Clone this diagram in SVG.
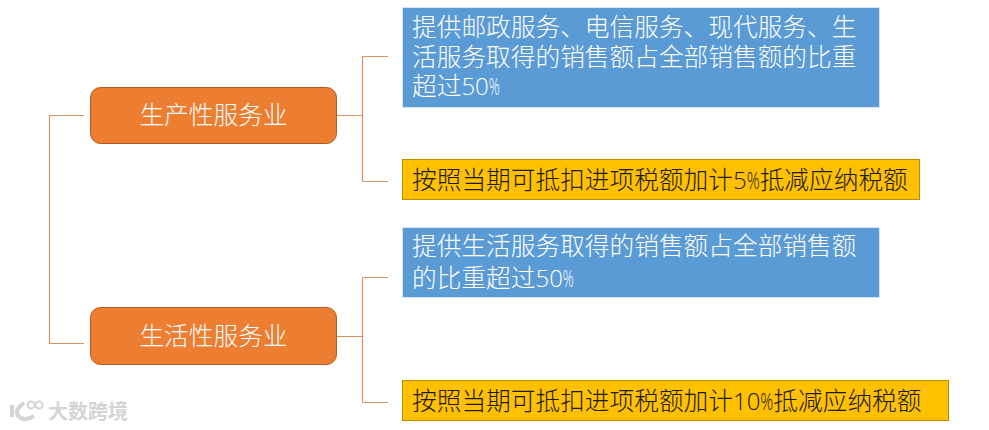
<svg xmlns="http://www.w3.org/2000/svg" width="989" height="430" viewBox="0 0 989 430">
<style>
text{font-family:"Noto Sans CJK SC","Noto Sans CJK JP","Liberation Sans",sans-serif;font-weight:300;font-size:24.7px}
.l{font-family:"Open Sans","Liberation Sans",sans-serif;font-weight:300;font-size:24px}
.c{fill:none;stroke:#d9915f;stroke-width:1.2}
.o{fill:#ed7d31;stroke:#ae5a21;stroke-width:1}
.ot{fill:#fff;text-anchor:middle}
.b{fill:#5b9bd5;stroke:#d6e6f5;stroke-width:1}
.bt{fill:#fff}
.y{fill:#ffc000;stroke:#bc8c00;stroke-width:1}
.yt{fill:#1a1a1a}
.w{fill:#d4d4d4;font-size:20px;font-weight:700}
</style>
<rect width="989" height="430" fill="#fff"/>
<g id="connectors">
<path class="c" d="M84 115.500H49.500V343.500H84"/>
<path class="c" d="M337 115.500H362.500M362.500 56.500V181.500M362.500 56.500H388M362.500 181.500H388"/>
<path class="c" d="M337 336.500H362.500M362.500 277.500V402.500M362.500 277.500H388M362.500 402.500H388"/>
</g>
<g id="n1"><rect class="o" x="90.500" y="87.500" width="246" height="56" rx="10"/><text class="ot" x="213.500" y="124">生产性服务业</text></g>
<g id="n2"><rect class="o" x="90.500" y="307.500" width="246" height="57" rx="10"/><text class="ot" x="213.500" y="345">生活性服务业</text></g>
<g id="n3"><rect class="b" x="402.500" y="7.500" width="477" height="100"/>
<text class="bt" x="412" y="36">提供邮政服务、电信服务、现代服务、生</text>
<text class="bt" x="412" y="66">活服务取得的销售额占全部销售额的比重</text>
<text class="bt" x="412" y="95">超过<tspan class="l">50</tspan><tspan class="l" textLength="11" lengthAdjust="spacingAndGlyphs">%</tspan></text></g>
<g id="n4"><rect class="y" x="402.500" y="159.500" width="517" height="40"/><text class="yt" x="412" y="189">按照当期可抵扣进项税额加计<tspan class="l">5</tspan><tspan class="l" textLength="13" lengthAdjust="spacingAndGlyphs">%</tspan>抵减应纳税额</text></g>
<g id="n5"><rect class="b" x="402.500" y="227.500" width="477" height="70"/>
<text class="bt" x="412" y="255">提供生活服务取得的销售额占全部销售额</text>
<text class="bt" x="412" y="287">的比重超过<tspan class="l">50</tspan><tspan class="l" textLength="11" lengthAdjust="spacingAndGlyphs">%</tspan></text></g>
<g id="n6"><rect class="y" x="402.500" y="380.500" width="546" height="40"/><text class="yt" x="412" y="410">按照当期可抵扣进项税额加计<tspan class="l">10</tspan><tspan class="l" textLength="13" lengthAdjust="spacingAndGlyphs">%</tspan>抵减应纳税额</text></g>
<g id="wm">
<path d="M12 405V417M24 403Q14 410 18 416Q24 422 34 416" fill="none" stroke="#d4d4d4" stroke-width="4"/>
<circle cx="31" cy="405" r="3.500" fill="none" stroke="#d4d4d4" stroke-width="2"/><circle cx="39" cy="405" r="3.500" fill="none" stroke="#d4d4d4" stroke-width="2"/>
<text class="w" x="48" y="419">大数跨境</text></g>
</svg>
